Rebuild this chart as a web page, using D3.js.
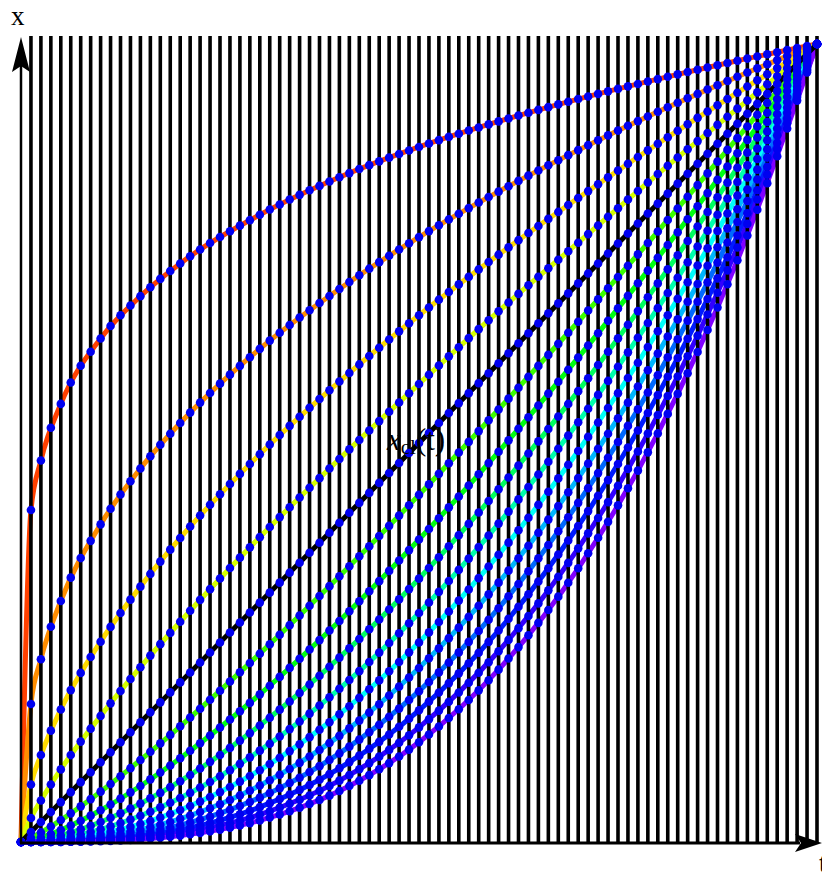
<!DOCTYPE html>
<html>
<head>
<meta charset="utf-8" />
<title>x_cl(t)</title>
<script src="https://d3js.org/d3.v7.min.js"></script>
<style>
  body { margin: 0; background: #fff; }
  svg { display: block; }
</style>
</head>
<body>
<svg id="chart" width="822" height="880"></svg>
<script>
var tSamples = [0, 0.0125, 0.025, 0.05, 0.1, 0.15, 0.2, 0.3, 0.4, 0.5, 0.6, 0.7, 0.8, 0.9, 1];

// paths, top to bottom; pathE is the classical one x_cl(t)
var pathA = [0, 0.416, 0.478, 0.549, 0.631, 0.684, 0.725, 0.786, 0.833, 0.871, 0.903, 0.931, 0.956, 0.979, 1];
var pathB = [0, 0.173, 0.229, 0.302, 0.398, 0.468, 0.525, 0.618, 0.693, 0.758, 0.815, 0.867, 0.915, 0.959, 1];
var pathC = [0, 0.072, 0.109, 0.166, 0.251, 0.320, 0.381, 0.486, 0.577, 0.660, 0.736, 0.807, 0.875, 0.939, 1];
var pathD = [0, 0.030, 0.052, 0.091, 0.158, 0.219, 0.276, 0.382, 0.480, 0.574, 0.665, 0.751, 0.837, 0.919, 1];
var pathE = [0, 0.0125, 0.025, 0.05, 0.1, 0.15, 0.2, 0.3, 0.4, 0.5, 0.6, 0.7, 0.8, 0.9, 1];
var pathF = [0, 0.0052, 0.012, 0.0275, 0.0631, 0.1027, 0.145, 0.236, 0.333, 0.435, 0.542, 0.652, 0.765, 0.882, 1];
var pathG = [0, 0.0022, 0.0057, 0.0151, 0.0398, 0.0702, 0.105, 0.185, 0.277, 0.379, 0.489, 0.607, 0.732, 0.863, 1];
var pathH = [0, 0.0009, 0.0027, 0.0083, 0.0251, 0.0481, 0.0762, 0.146, 0.231, 0.330, 0.442, 0.565, 0.700, 0.845, 1];
var pathI = [0, 0.0004, 0.0013, 0.0045, 0.0158, 0.0329, 0.0552, 0.1145, 0.192, 0.287, 0.399, 0.526, 0.669, 0.827, 1];
var pathJ = [0, 0.0002, 0.0006, 0.0025, 0.010, 0.0225, 0.040, 0.090, 0.160, 0.250, 0.360, 0.490, 0.640, 0.810, 1];
var pathK = [0, 0.0001, 0.0003, 0.0014, 0.0063, 0.0154, 0.029, 0.0707, 0.133, 0.218, 0.325, 0.456, 0.612, 0.793, 1];
var pathL = [0, 0, 0.0001, 0.0008, 0.004, 0.0105, 0.021, 0.0556, 0.111, 0.189, 0.293, 0.425, 0.585, 0.777, 1];
var pathM = [0, 0, 0.0001, 0.0004, 0.0025, 0.0072, 0.0152, 0.0437, 0.0924, 0.165, 0.265, 0.396, 0.560, 0.760, 1];
var pathN = [0, 0, 0, 0.0002, 0.0016, 0.0049, 0.011, 0.0344, 0.0769, 0.1436, 0.239, 0.368, 0.535, 0.745, 1];
var pathO = [0, 0, 0, 0.0001, 0.001, 0.0034, 0.008, 0.027, 0.064, 0.125, 0.216, 0.343, 0.512, 0.729, 1];

var paths = [pathA, pathB, pathC, pathD, pathE, pathF, pathG, pathH, pathI, pathJ, pathK, pathL, pathM, pathN, pathO];
var classical = 4;

// time slices (vertical lines)
var slices = d3.range(0, 81).map(function(k) { return k / 80; });

var svg = d3.select("#chart");
svg.append("rect").attr("width", 822).attr("height", 880).attr("fill", "#fff");

var x = d3.scaleLinear().domain([0, 1]).range([21, 817]);
var y = d3.scaleLinear().domain([0, 1]).range([842, 44]);
var hue = d3.scaleLinear().domain([0, paths.length - 1]).range([15, 270]);

var line = d3.line()
    .x(function(d, i) { return x(tSamples[i]); })
    .y(function(d) { return y(d); })
    .curve(d3.curveMonotoneX);

// coloured paths (classical one drawn later in black)
var curveG = svg.append("g");
var curveSel = curveG.selectAll("path").data(paths).join("path")
    .attr("d", line)
    .attr("fill", "none")
    .attr("stroke", function(d, i) { return i == classical ? "none" : d3.hsl(hue(i), 1, 0.5); })
    .attr("stroke-width", 5)
    .attr("stroke-linejoin", "round");

// time slices
svg.append("g").selectAll("line").data(slices.slice(1)).join("line")
    .attr("x1", function(d) { return x(d); })
    .attr("x2", function(d) { return x(d); })
    .attr("y1", 36)
    .attr("y2", 842)
    .attr("stroke", "#000")
    .attr("stroke-width", 3.6);

// classical path
svg.append("path").datum(paths[classical])
    .attr("d", line)
    .attr("fill", "none")
    .attr("stroke", "#000")
    .attr("stroke-width", 5);

// where a drawn path crosses a time slice
function yOnPath(node, px) {
    var lo = 0, hi = node.getTotalLength();
    for (var i = 0; i < 32; i++) {
        var mid = (lo + hi) / 2;
        if (node.getPointAtLength(mid).x < px) lo = mid; else hi = mid;
    }
    return node.getPointAtLength((lo + hi) / 2).y;
}

var dots = [];
curveSel.each(function(d, i) {
    var node = this;
    slices.forEach(function(t) {
        dots.push({ cx: x(t), cy: yOnPath(node, x(t)) });
    });
});

svg.append("g").selectAll("circle").data(dots).join("circle")
    .attr("cx", function(d) { return d.cx; })
    .attr("cy", function(d) { return d.cy; })
    .attr("r", 4.3)
    .attr("fill", "#0000f0");

// axes with arrow heads
svg.append("line").attr("x1", 21).attr("x2", 21).attr("y1", 60).attr("y2", 843)
    .attr("stroke", "#000").attr("stroke-width", 2.5);
svg.append("line").attr("x1", 20).attr("x2", 800).attr("y1", 843).attr("y2", 843)
    .attr("stroke", "#000").attr("stroke-width", 3);
svg.append("path").attr("d", "M21,37L12,72L21,66L30,72Z").attr("fill", "#000");
svg.append("path").attr("d", "M822,843L795,834L801,843L795,852Z").attr("fill", "#000");

// labels
svg.append("text").attr("x", 11).attr("y", 25)
    .attr("font-family", "Liberation Serif, serif").attr("font-size", 27)
    .text("x");
svg.append("text").attr("x", 819).attr("y", 872)
    .attr("font-family", "Liberation Serif, serif").attr("font-size", 27)
    .text("t");

var lbl = svg.append("text").attr("x", 387).attr("y", 450)
    .attr("font-family", "Liberation Serif, serif").attr("font-size", 31);
lbl.append("tspan").attr("font-style", "italic").text("x");
lbl.append("tspan").attr("font-size", 21).attr("dy", 4).text("cl");
lbl.append("tspan").attr("dy", -4).text("(t)");
</script>
</body>
</html>
